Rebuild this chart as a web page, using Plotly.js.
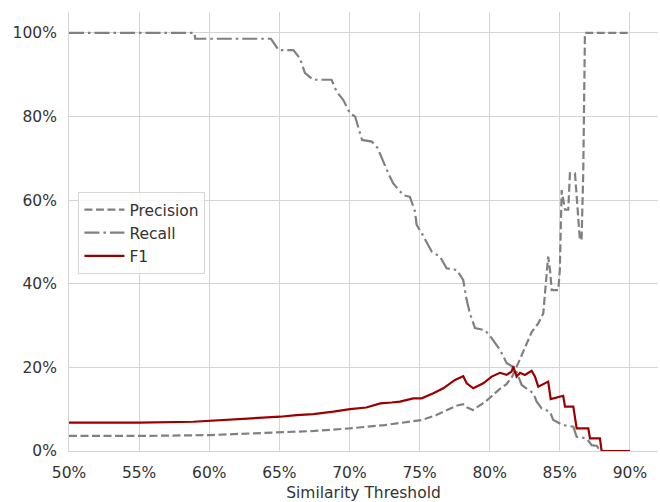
<!DOCTYPE html>
<html>
<head>
<meta charset="utf-8">
<script src="https://cdn.plot.ly/plotly-3.0.1.min.js"></script>
<style>html,body{margin:0;padding:0;background:#fff;}#chart{width:660px;height:502px;}</style>
</head>
<body>
<div id="chart"></div>
<script>
// Similarity threshold (%) and metric values (%)
const precisionThresholds = [50, 55, 60, 65, 67.5, 70, 72.5, 75.15, 76.2, 77.6, 78.1, 78.4, 78.8, 79.7, 80.7, 81.2, 81.6, 82.1, 82.6, 83.0, 83.46, 83.82, 83.94, 84.17, 84.3, 84.42, 84.89, 85.0, 85.13, 85.25, 85.37, 85.6, 85.72, 86.08, 86.2, 86.43, 86.55, 86.67, 86.79, 90];
const precisionValues = [3.6, 3.6, 3.8, 4.4, 4.8, 5.4, 6.2, 7.4, 8.6, 10.8, 11.2, 10.4, 9.8, 11.8, 14.8, 16.0, 17.8, 21.5, 25.5, 28.5, 30.5, 32.9, 37.7, 46.5, 43.3, 38.5, 38.5, 43.3, 62.4, 60.0, 57.7, 57.7, 66.4, 66.4, 61.6, 50.5, 50.5, 66.4, 100, 100];

const recallThresholds = [50, 58.95, 59.0, 64.4, 64.95, 66.0, 66.47, 66.83, 67.42, 68.72, 69.08, 69.55, 70.03, 70.4, 70.9, 71.6, 72.0, 72.3, 72.77, 73.12, 73.84, 74.31, 74.67, 74.79, 75.15, 75.86, 76.45, 76.93, 77.64, 78.11, 78.36, 78.59, 78.95, 79.66, 80.14, 80.73, 81.21, 81.80, 82.28, 83.11, 83.35, 83.70, 84.30, 84.53, 85.24, 85.96, 86.20, 86.91, 87.27, 87.65, 87.86, 90];
const recallValues = [100, 100, 98.6, 98.6, 95.9, 95.9, 93.9, 90.4, 88.8, 88.8, 86.0, 84.0, 80.8, 80.0, 74.4, 74.0, 72.5, 70.0, 66.4, 64.0, 61.2, 60.8, 57.3, 54.1, 52.1, 47.7, 46.5, 43.7, 43.3, 40.9, 36.1, 32.9, 29.4, 28.9, 27.0, 24.2, 21.0, 19.9, 15.8, 13.8, 11.8, 10.2, 9.4, 7.4, 6.2, 5.8, 3.4, 3.0, 1.4, 1.2, 0, 0];

const f1Thresholds = [50, 55, 58.86, 60.05, 62.67, 65.04, 66.23, 67.42, 68.85, 70.04, 71.2, 72.2, 73.0, 73.6, 74.55, 75.15, 75.98, 76.69, 77.52, 78.11, 78.36, 78.83, 79.54, 80.14, 80.73, 81.2, 81.56, 81.68, 81.92, 82.16, 82.51, 82.99, 83.23, 83.46, 84.17, 84.35, 85.24, 85.37, 85.96, 86.2, 87.03, 87.15, 87.86, 87.98, 90];
const f1Values = [6.8, 6.8, 7.0, 7.2, 7.8, 8.2, 8.6, 8.8, 9.4, 10.0, 10.4, 11.4, 11.6, 11.8, 12.6, 12.6, 13.8, 15.0, 17.0, 17.9, 16.2, 15.0, 16.2, 17.8, 18.7, 18.2, 19.0, 20.2, 17.8, 18.7, 18.2, 19.2, 17.8, 15.4, 16.6, 12.4, 13.2, 10.6, 10.6, 5.4, 5.4, 3.0, 3.0, 0, 0];

const xTicks = [50, 55, 60, 65, 70, 75, 80, 85, 90];
const yTicks = [0, 20, 40, 60, 80, 100];

const FONT = "DejaVu Sans, sans-serif";
const FS = 15.5;
const textColor = "#333333";
const gridColor = "#d4d4d4";

const traces = [
  {x: precisionThresholds, y: precisionValues, name: "Precision", mode: "lines", legendgroup: "p",
   line: {color: "#808080", width: 2.2, dash: "8px,3.5px"}},
  {x: recallThresholds, y: recallValues, name: "Recall", mode: "lines", legendgroup: "r",
   line: {color: "#808080", width: 2.2, dash: "15px,4px,2.5px,4px"}},
  {x: f1Thresholds, y: f1Values, name: "F1", mode: "lines", legendgroup: "f",
   line: {color: "#9a0000", width: 2.2}}
];

const layout = {
  width: 660, height: 502,
  margin: {l: 69, r: 2, t: 12, b: 51, pad: 0},
  paper_bgcolor: "#fff", plot_bgcolor: "#fff",
  font: {family: FONT, size: FS, color: textColor},
  showlegend: true,
  legend: {x: 0.016, y: 0.59, xanchor: "left", yanchor: "top",
    traceorder: "grouped", tracegroupgap: 0, itemwidth: 40,
    bgcolor: "rgba(255,255,255,0.8)", bordercolor: "#d6d6d6", borderwidth: 1,
    font: {family: FONT, size: FS, color: textColor}},
  xaxis: {
    range: [50, 92], tickvals: xTicks, ticktext: xTicks.map(v => v + "%"),
    showgrid: true, gridcolor: gridColor, gridwidth: 1,
    showline: true, linecolor: gridColor, linewidth: 1,
    zeroline: false, ticks: "", ticklabelstandoff: 7,
    tickfont: {family: FONT, size: FS, color: textColor},
    title: {text: "Similarity Threshold", font: {family: FONT, size: FS, color: textColor}, standoff: 6}
  },
  yaxis: {
    range: [0, 105], tickvals: yTicks, ticktext: yTicks.map(v => v + "%"),
    showgrid: true, gridcolor: gridColor, gridwidth: 1,
    showline: true, linecolor: gridColor, linewidth: 1,
    zeroline: false, ticks: "", ticklabelstandoff: 8,
    tickfont: {family: FONT, size: FS, color: textColor}
  }
};

Plotly.newPlot("chart", traces, layout, {displayModeBar: false, staticPlot: true});
</script>
</body>
</html>
